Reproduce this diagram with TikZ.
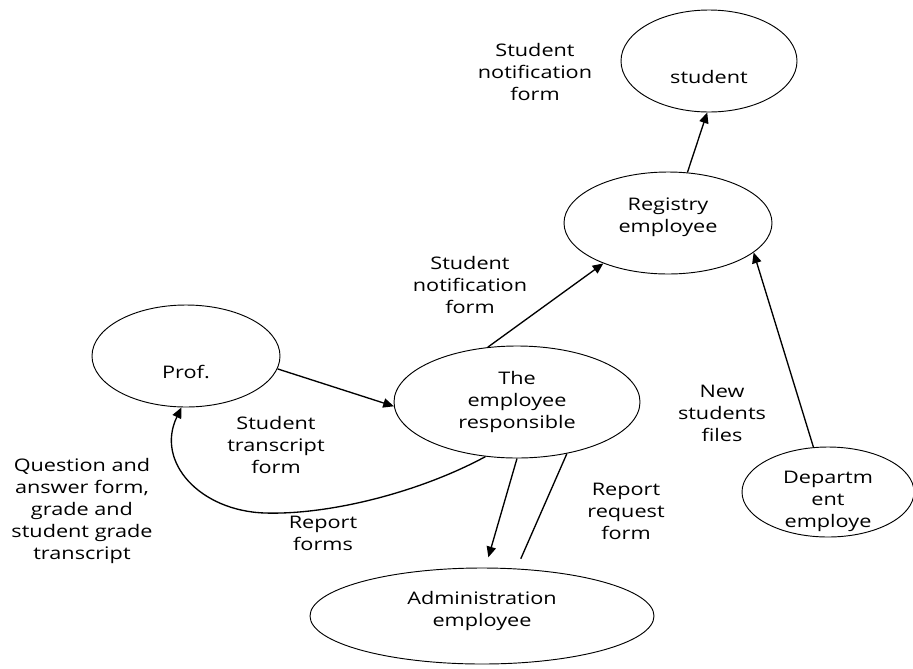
\documentclass[tikz,border=0pt]{standalone}
\usepackage{fontspec}
\setmainfont[FakeStretch=1.25]{Open Sans}
\usetikzlibrary{arrows.meta, shapes.geometric}

\tikzset{
  proc/.style={draw, ellipse, line width=0.7pt, inner sep=0pt},
  flow/.style={line width=1pt, -{Triangle[length=8pt,width=7pt]}},
  plain/.style={line width=1pt},
  txt/.style={align=center, font=\fontsize{13}{16.5}\selectfont},
}

\begin{document}
\begin{tikzpicture}[x=0.75pt, y=-0.75pt]
  \useasboundingbox (0,0) rectangle (913,668);

  % Prozesse
  \node[proc, minimum width=132pt, minimum height=76.5pt, label={[txt, yshift=-12pt]center:student}] (stud) at (709,61) {};
  \node[proc, minimum width=156pt, minimum height=76.5pt, label={[txt, yshift=4pt]center:Registry\\employee}] (reg) at (668,223) {};
  \node[proc, minimum width=141pt, minimum height=76.5pt, label={[txt, yshift=-12pt]center:Prof.}] (prof) at (186,356) {};
  \node[proc, minimum width=184.5pt, minimum height=84pt, label={[txt]center:The\\employee\\responsible}] (emp) at (517,402) {};
  \node[proc, minimum width=129pt, minimum height=67.5pt, label={[txt, yshift=-7pt]center:Departm\\ent\\employe}] (dept) at (828,492) {};
  \node[proc, minimum width=258pt, minimum height=72pt, label={[txt, yshift=4pt]center:Administration\\employee}] (adm) at (482,616) {};

  % Beschriftungen
  \node[txt] (nfa) at (535,72) {Student\\notification\\form};
  \node[txt] (nfb) at (470,285) {Student\\notification\\form};
  \node[txt] (nsf) at (722,413) {New\\students\\files};
  \node[txt] (stf) at (276,445) {Student\\transcript\\form};
  \node[txt] (rpf) at (323,533) {Report\\forms};
  \node[txt] (rrf) at (626,511) {Report\\request\\form};
  \node[txt] (qaf) at (82,511) {Question and\\answer form,\\grade and\\student grade\\transcript};

  % Datenfluesse
  \draw[flow] (reg.69.6) -- (stud.268);
  \draw[flow] (emp.118.2) -- (reg.212.4);
  \draw[flow] (dept.108.8) -- (reg.341.4);
  \draw[flow] (prof.352.5) -- (emp.182.3);
  \draw[flow] (emp.240.3) .. controls (420,492) and (330,515) .. (265,513)
    .. controls (200,511) and (155,462) .. (prof.265.8);
  \draw[flow, shorten >=8pt] (emp.270) -- (adm.86.4);
  \draw[plain, shorten <=8pt] (adm.54.9) -- (emp.314.5);
\end{tikzpicture}
\end{document}
